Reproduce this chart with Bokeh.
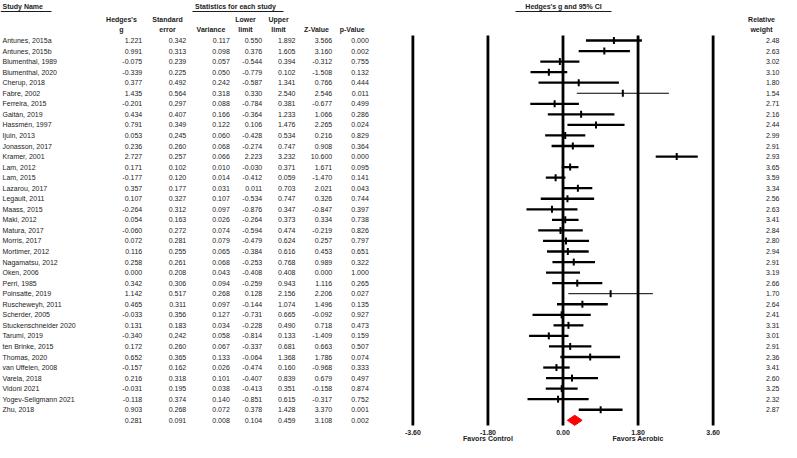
from bokeh.plotting import figure
from bokeh.models import Range1d, ColumnDataSource
from bokeh.embed import file_html
from bokeh.resources import INLINE
from bokeh.core.properties import value

# ---------------- data ----------------
studies = ["Antunes, 2015a", "Antunes, 2015b", "Blumenthal, 1989", "Blumenthal, 2020",
           "Cherup, 2018", "Fabre, 2002", "Ferreira, 2015", "Gaitán, 2019",
           "Hassmén, 1997", "Ijuin, 2013", "Jonasson, 2017", "Kramer, 2001",
           "Lam, 2012", "Lam, 2015", "Lazarou, 2017", "Legault, 2011", "Maass, 2015",
           "Maki, 2012", "Matura, 2017", "Morris, 2017", "Mortimer, 2012",
           "Nagamatsu, 2012", "Oken, 2006", "Perri, 1985", "Poinsatte, 2019",
           "Ruscheweyh, 2011", "Scherder, 2005", "Stuckenschneider 2020", "Tarumi, 2019",
           "ten Brinke, 2015", "Thomas, 2020", "van Uffelen, 2008", "Varela, 2018",
           "Vidoni 2021", "Yogev-Seligmann 2021", "Zhu, 2018"]
hedges_g = [1.221, 0.991, -0.075, -0.339, 0.377, 1.435, -0.201, 0.434, 0.791, 0.053,
            0.236, 2.727, 0.171, -0.177, 0.357, 0.107, -0.264, 0.054, -0.060, 0.072,
            0.116, 0.258, 0.000, 0.342, 1.142, 0.465, -0.033, 0.131, -0.340, 0.172,
            0.652, -0.157, 0.216, -0.031, -0.118, 0.903]
std_err = [0.342, 0.313, 0.239, 0.225, 0.492, 0.564, 0.297, 0.407, 0.349, 0.245,
           0.260, 0.257, 0.102, 0.120, 0.177, 0.327, 0.312, 0.163, 0.272, 0.281,
           0.255, 0.261, 0.208, 0.306, 0.517, 0.311, 0.356, 0.183, 0.242, 0.260,
           0.365, 0.162, 0.318, 0.195, 0.374, 0.268]
variance = [0.117, 0.098, 0.057, 0.050, 0.242, 0.318, 0.088, 0.166, 0.122, 0.060,
            0.068, 0.066, 0.010, 0.014, 0.031, 0.107, 0.097, 0.026, 0.074, 0.079,
            0.065, 0.068, 0.043, 0.094, 0.268, 0.097, 0.127, 0.034, 0.058, 0.067,
            0.133, 0.026, 0.101, 0.038, 0.140, 0.072]
lower = [0.550, 0.376, -0.544, -0.779, -0.587, 0.330, -0.784, -0.364, 0.106, -0.428,
         -0.274, 2.223, -0.030, -0.412, 0.011, -0.534, -0.876, -0.264, -0.594, -0.479,
         -0.384, -0.253, -0.408, -0.259, 0.128, -0.144, -0.731, -0.228, -0.814, -0.337,
         -0.064, -0.474, -0.407, -0.413, -0.851, 0.378]
upper = [1.892, 1.605, 0.394, 0.102, 1.341, 2.540, 0.381, 1.233, 1.476, 0.534,
         0.747, 3.232, 0.371, 0.059, 0.703, 0.747, 0.347, 0.373, 0.474, 0.624,
         0.616, 0.768, 0.408, 0.943, 2.156, 1.074, 0.665, 0.490, 0.133, 0.681,
         1.368, 0.160, 0.839, 0.351, 0.615, 1.428]
z_value = [3.566, 3.160, -0.312, -1.508, 0.766, 2.546, -0.677, 1.066, 2.265, 0.216,
           0.908, 10.600, 1.671, -1.470, 2.021, 0.326, -0.847, 0.334, -0.219, 0.257,
           0.453, 0.989, 0.000, 1.116, 2.206, 1.496, -0.092, 0.718, -1.409, 0.663,
           1.786, -0.968, 0.679, -0.158, -0.317, 3.370]
p_value = [0.000, 0.002, 0.755, 0.132, 0.444, 0.011, 0.499, 0.286, 0.024, 0.829,
           0.364, 0.000, 0.095, 0.141, 0.043, 0.744, 0.397, 0.738, 0.826, 0.797,
           0.651, 0.322, 1.000, 0.265, 0.027, 0.135, 0.927, 0.473, 0.159, 0.507,
           0.074, 0.333, 0.497, 0.874, 0.752, 0.001]
rel_weight = [2.48, 2.63, 3.02, 3.10, 1.80, 1.54, 2.71, 2.16, 2.44, 2.99,
              2.91, 2.93, 3.65, 3.59, 3.34, 2.56, 2.63, 3.41, 2.84, 2.80,
              2.94, 2.91, 3.19, 2.66, 1.70, 2.64, 2.41, 3.31, 3.01, 2.91,
              2.36, 3.41, 2.60, 3.25, 2.32, 2.87]
summary_vals = [0.281, 0.091, 0.008, 0.104, 0.459, 3.108, 0.002]  # g, se, var, lo, hi, z, p
axis_ticks = [-3.6, -1.8, 0.0, 1.8, 3.6]
axis_tick_labels = ["-3.60", "-1.80", "0.00", "1.80", "3.60"]

# ---------------- figure ----------------
W, H = 781, 442            # pixel space of the figure
G0, GS = 562.5, 41.7       # position of g=0 and pixels per unit
R0, RS = 40.0, 10.55       # first row centre and row pitch

p = figure(width=W, height=H, x_range=Range1d(0, W), y_range=Range1d(H, 0),
           output_backend="svg", toolbar_location=None, min_border=0,
           x_axis_type=None, y_axis_type=None, outline_line_color=None,
           background_fill_color="white", border_fill_color="white")
p.grid.visible = False
p.extra_x_ranges = {"g": Range1d((0 - G0) / GS, (W - G0) / GS)}
p.extra_y_ranges = {"row": Range1d((H - R0) / RS, (0 - R0) / RS)}

FONT = value("Liberation Sans")
FS = "7px"
TC = "#1c1c1c"

n = len(studies)
rows = list(range(n))
srow = n

# table columns
p.text(x=[2] * n, y=rows, text=studies, y_range_name="row", text_font=FONT,
       text_font_size=FS, text_color=TC, text_baseline="middle", text_align="left")
col_right = [141.7, 185.7, 229.3, 261.7, 295.0, 331.7, 368.3]
cols = [hedges_g, std_err, variance, lower, upper, z_value, p_value]
for xr, vals, sv in zip(col_right, cols, summary_vals):
    txt = [f"{v:.3f}" for v in vals] + [f"{sv:.3f}"]
    p.text(x=[xr] * (n + 1), y=rows + [srow], text=txt, y_range_name="row",
           text_font=FONT, text_font_size=FS, text_color=TC,
           text_baseline="middle", text_align="right")
p.text(x=[779] * n, y=rows, text=[f"{w:.2f}" for w in rel_weight], y_range_name="row",
       text_font=FONT, text_font_size=FS, text_color=TC,
       text_baseline="middle", text_align="right")

# headers
def hdr(x, y, t, align="center"):
    p.text(x=[x], y=[y], text=[t], text_font=FONT, text_font_size=FS,
           text_font_style="bold", text_color=TC, text_baseline="middle", text_align=align)

hdr(2, 6, "Study Name", "left")
hdr(235, 6, "Statistics for each study")
hdr(563, 6, "Hedges's g and 95% CI")
p.segment(x0=[0, 192, 515], x1=[51, 283, 611], y0=[11, 11, 11], y1=[11, 11, 11],
          line_color=TC, line_width=1.2)
for cx, l1, l2 in [(121, "Hedges's", "g"), (167, "Standard", "error"),
                   (210.5, "", "Variance"), (245, "Lower", "limit"),
                   (278, "Upper", "limit"), (316, "", "Z-Value"),
                   (351.7, "", "p-Value"), (761, "Relative", "weight")]:
    if l1:
        hdr(cx, 19, l1)
    hdr(cx, 28.5, l2)

# vertical reference lines
p.segment(x0=axis_ticks, x1=axis_ticks, y0=[35] * 5, y1=[425] * 5, x_range_name="g",
          line_color="black", line_width=2.8)
p.text(x=axis_ticks, y=[432] * 5, text=axis_tick_labels, x_range_name="g",
       text_font=FONT, text_font_size=FS, text_font_style="bold", text_color=TC,
       text_baseline="middle", text_align="center")
p.text(x=[-1.8, 1.8], y=[438.3, 438.3], text=["Favors Control", "Favors Aerobic"],
       x_range_name="g", text_font=FONT, text_font_size=FS, text_font_style="bold",
       text_color=TC, text_baseline="middle", text_align="center")

# CI lines and point markers
lw = [1.0 if w < 1.75 else 2.3 for w in rel_weight]
src = ColumnDataSource(dict(lo=lower, hi=upper, g=hedges_g, r=rows,
                            r0=[r - 0.33 for r in rows], r1=[r + 0.33 for r in rows], lw=lw))
p.segment(x0="lo", x1="hi", y0="r", y1="r", source=src, x_range_name="g",
          y_range_name="row", line_color="black", line_width="lw")
p.segment(x0="g", x1="g", y0="r0", y1="r1", source=src, x_range_name="g",
          y_range_name="row", line_color="black", line_width=2)

# summary diamond
sg, slo, shi = summary_vals[0], summary_vals[3], summary_vals[4]
p.patch(x=[slo, sg, shi, sg], y=[srow, srow - 0.48, srow, srow + 0.48],
        x_range_name="g", y_range_name="row", fill_color="#ff0000", line_color="#ff0000")

open("out.html", "w").write(file_html(p, INLINE))
